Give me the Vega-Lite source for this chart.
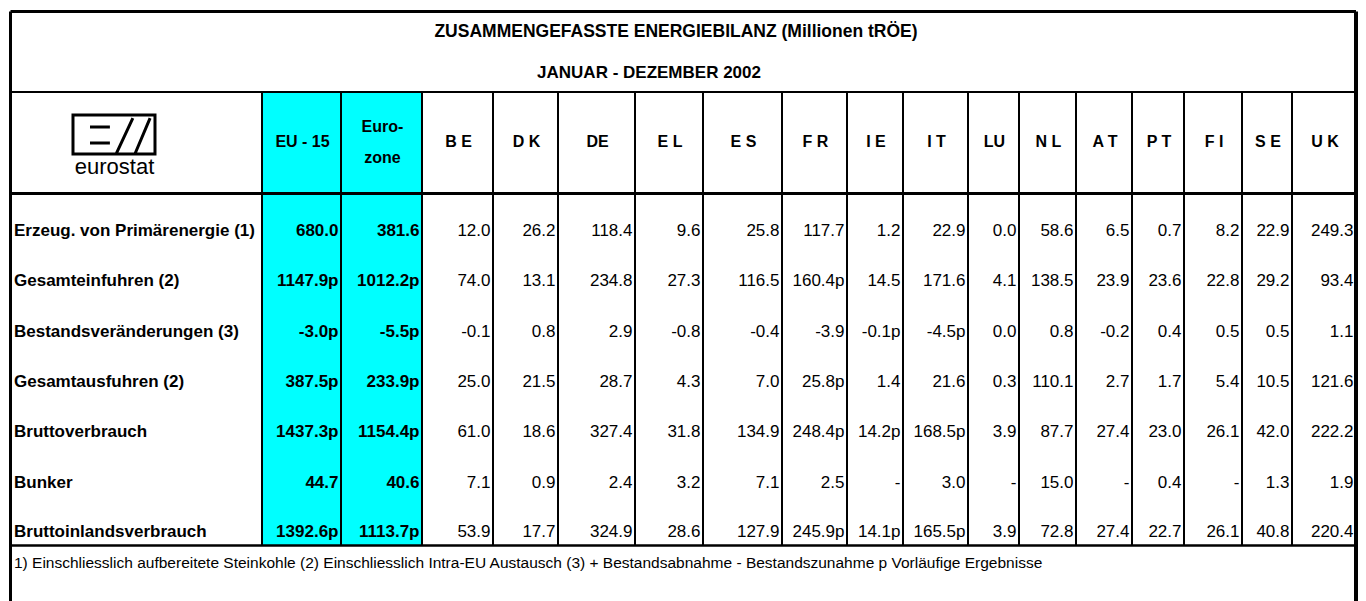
{
  "$schema": "https://vega.github.io/schema/vega-lite/v6.json",
  "width": 1366,
  "height": 601,
  "autosize": {"type": "none"},
  "padding": 0,
  "background": "white",
  "config": {"view": {"stroke": null}},
  "datasets": {
    "table": [
      {"row": 1, "item": "Erzeug. von Primärenergie (1)", "EU-15": "680.0", "Eurozone": "381.6", "BE": "12.0", "DK": "26.2", "DE": "118.4", "EL": "9.6", "ES": "25.8", "FR": "117.7", "IE": "1.2", "IT": "22.9", "LU": "0.0", "NL": "58.6", "AT": "6.5", "PT": "0.7", "FI": "8.2", "SE": "22.9", "UK": "249.3"},
      {"row": 2, "item": "Gesamteinfuhren (2)", "EU-15": "1147.9p", "Eurozone": "1012.2p", "BE": "74.0", "DK": "13.1", "DE": "234.8", "EL": "27.3", "ES": "116.5", "FR": "160.4p", "IE": "14.5", "IT": "171.6", "LU": "4.1", "NL": "138.5", "AT": "23.9", "PT": "23.6", "FI": "22.8", "SE": "29.2", "UK": "93.4"},
      {"row": 3, "item": "Bestandsveränderungen (3)", "EU-15": "-3.0p", "Eurozone": "-5.5p", "BE": "-0.1", "DK": "0.8", "DE": "2.9", "EL": "-0.8", "ES": "-0.4", "FR": "-3.9", "IE": "-0.1p", "IT": "-4.5p", "LU": "0.0", "NL": "0.8", "AT": "-0.2", "PT": "0.4", "FI": "0.5", "SE": "0.5", "UK": "1.1"},
      {"row": 4, "item": "Gesamtausfuhren (2)", "EU-15": "387.5p", "Eurozone": "233.9p", "BE": "25.0", "DK": "21.5", "DE": "28.7", "EL": "4.3", "ES": "7.0", "FR": "25.8p", "IE": "1.4", "IT": "21.6", "LU": "0.3", "NL": "110.1", "AT": "2.7", "PT": "1.7", "FI": "5.4", "SE": "10.5", "UK": "121.6"},
      {"row": 5, "item": "Bruttoverbrauch", "EU-15": "1437.3p", "Eurozone": "1154.4p", "BE": "61.0", "DK": "18.6", "DE": "327.4", "EL": "31.8", "ES": "134.9", "FR": "248.4p", "IE": "14.2p", "IT": "168.5p", "LU": "3.9", "NL": "87.7", "AT": "27.4", "PT": "23.0", "FI": "26.1", "SE": "42.0", "UK": "222.2"},
      {"row": 6, "item": "Bunker", "EU-15": "44.7", "Eurozone": "40.6", "BE": "7.1", "DK": "0.9", "DE": "2.4", "EL": "3.2", "ES": "7.1", "FR": "2.5", "IE": "-", "IT": "3.0", "LU": "-", "NL": "15.0", "AT": "-", "PT": "0.4", "FI": "-", "SE": "1.3", "UK": "1.9"},
      {"row": 7, "item": "Bruttoinlandsverbrauch", "EU-15": "1392.6p", "Eurozone": "1113.7p", "BE": "53.9", "DK": "17.7", "DE": "324.9", "EL": "28.6", "ES": "127.9", "FR": "245.9p", "IE": "14.1p", "IT": "165.5p", "LU": "3.9", "NL": "72.8", "AT": "27.4", "PT": "22.7", "FI": "26.1", "SE": "40.8", "UK": "220.4"}
    ],
    "columns": [
      {"col": "label", "k": 1, "head": ""},
      {"col": "EU-15", "k": 2, "head": "EU - 15"},
      {"col": "Eurozone", "k": 3, "head": "Euro-\nzone"},
      {"col": "BE", "k": 4, "head": "B E"},
      {"col": "DK", "k": 5, "head": "D K"},
      {"col": "DE", "k": 6, "head": "DE"},
      {"col": "EL", "k": 7, "head": "E L"},
      {"col": "ES", "k": 8, "head": "E S"},
      {"col": "FR", "k": 9, "head": "F R"},
      {"col": "IE", "k": 10, "head": "I E"},
      {"col": "IT", "k": 11, "head": "I T"},
      {"col": "LU", "k": 12, "head": "LU"},
      {"col": "NL", "k": 13, "head": "N L"},
      {"col": "AT", "k": 14, "head": "A T"},
      {"col": "PT", "k": 15, "head": "P T"},
      {"col": "FI", "k": 16, "head": "F I"},
      {"col": "SE", "k": 17, "head": "S E"},
      {"col": "UK", "k": 18, "head": "U K"}
    ]
  },
  "layer": [
    {
      "layer": [
        {
          "data": {"values": [{}]},
          "mark": {"type": "rect", "color": "#00FFFF"},
          "encoding": {
            "x": {"datum": 1, "type": "quantitative", "axis": null, "scale": {"type": "linear", "domain": [0,1,2,3,4,5,6,7,8,9,10,11,12,13,14,15,16,17,18], "range": [10.5,262,341,422,493,558,635,703,782,847,903,968,1019,1076,1132,1184,1242,1292,1356], "nice": false, "zero": false}},
            "x2": {"datum": 3},
            "y": {"datum": -2, "type": "quantitative", "axis": null, "scale": {"type": "linear", "domain": [-5,-4,-3,-2,-1,0,1,2,3,4,5,6,7,8,9,10], "range": [11.5,32,72.5,92,142,193.5,231,281,332,382,432,483,532,545.5,562.5,601], "nice": false, "zero": false}},
            "y2": {"datum": 8}
          }
        },
        {
          "data": {"name": "columns"},
          "transform": [{"filter": "datum.k < 18"}],
          "mark": {"type": "rule", "color": "black", "strokeWidth": 2},
          "encoding": {
            "x": {"field": "k", "type": "quantitative", "axis": null, "scale": {"type": "linear", "domain": [0,1,2,3,4,5,6,7,8,9,10,11,12,13,14,15,16,17,18], "range": [10.5,262,341,422,493,558,635,703,782,847,903,968,1019,1076,1132,1184,1242,1292,1356], "nice": false, "zero": false}},
            "y": {"datum": -2, "type": "quantitative", "axis": null, "scale": {"type": "linear", "domain": [-5,-4,-3,-2,-1,0,1,2,3,4,5,6,7,8,9,10], "range": [11.5,32,72.5,92,142,193.5,231,281,332,382,432,483,532,545.5,562.5,601], "nice": false, "zero": false}},
            "y2": {"datum": 8}
          }
        },
        {
          "data": {"values": [{}]},
          "mark": {"type": "rule", "color": "black", "strokeWidth": 3},
          "encoding": {
            "x": {"datum": 0, "type": "quantitative", "axis": null, "scale": {"type": "linear", "domain": [0,1,2,3,4,5,6,7,8,9,10,11,12,13,14,15,16,17,18], "range": [10.5,262,341,422,493,558,635,703,782,847,903,968,1019,1076,1132,1184,1242,1292,1356], "nice": false, "zero": false}},
            "x2": {"datum": 18},
            "y": {"datum": -5, "type": "quantitative", "axis": null, "scale": {"type": "linear", "domain": [-5,-4,-3,-2,-1,0,1,2,3,4,5,6,7,8,9,10], "range": [11.5,32,72.5,92,142,193.5,231,281,332,382,432,483,532,545.5,562.5,601], "nice": false, "zero": false}}
          }
        },
        {
          "data": {"values": [{}]},
          "mark": {"type": "rule", "color": "black", "strokeWidth": 2},
          "encoding": {
            "x": {"datum": 0, "type": "quantitative", "axis": null, "scale": {"type": "linear", "domain": [0,1,2,3,4,5,6,7,8,9,10,11,12,13,14,15,16,17,18], "range": [10.5,262,341,422,493,558,635,703,782,847,903,968,1019,1076,1132,1184,1242,1292,1356], "nice": false, "zero": false}},
            "x2": {"datum": 18},
            "y": {"datum": -2, "type": "quantitative", "axis": null, "scale": {"type": "linear", "domain": [-5,-4,-3,-2,-1,0,1,2,3,4,5,6,7,8,9,10], "range": [11.5,32,72.5,92,142,193.5,231,281,332,382,432,483,532,545.5,562.5,601], "nice": false, "zero": false}}
          }
        },
        {
          "data": {"values": [{}]},
          "mark": {"type": "rule", "color": "black", "strokeWidth": 3},
          "encoding": {
            "x": {"datum": 0, "type": "quantitative", "axis": null, "scale": {"type": "linear", "domain": [0,1,2,3,4,5,6,7,8,9,10,11,12,13,14,15,16,17,18], "range": [10.5,262,341,422,493,558,635,703,782,847,903,968,1019,1076,1132,1184,1242,1292,1356], "nice": false, "zero": false}},
            "x2": {"datum": 18},
            "y": {"datum": 0, "type": "quantitative", "axis": null, "scale": {"type": "linear", "domain": [-5,-4,-3,-2,-1,0,1,2,3,4,5,6,7,8,9,10], "range": [11.5,32,72.5,92,142,193.5,231,281,332,382,432,483,532,545.5,562.5,601], "nice": false, "zero": false}}
          }
        },
        {
          "data": {"values": [{}]},
          "mark": {"type": "rule", "color": "black", "strokeWidth": 2.5},
          "encoding": {
            "x": {"datum": 0, "type": "quantitative", "axis": null, "scale": {"type": "linear", "domain": [0,1,2,3,4,5,6,7,8,9,10,11,12,13,14,15,16,17,18], "range": [10.5,262,341,422,493,558,635,703,782,847,903,968,1019,1076,1132,1184,1242,1292,1356], "nice": false, "zero": false}},
            "x2": {"datum": 18},
            "y": {"datum": 8, "type": "quantitative", "axis": null, "scale": {"type": "linear", "domain": [-5,-4,-3,-2,-1,0,1,2,3,4,5,6,7,8,9,10], "range": [11.5,32,72.5,92,142,193.5,231,281,332,382,432,483,532,545.5,562.5,601], "nice": false, "zero": false}}
          }
        },
        {
          "data": {"values": [{}]},
          "mark": {"type": "rule", "color": "black", "strokeWidth": 3},
          "encoding": {
            "x": {"datum": 0, "type": "quantitative", "axis": null, "scale": {"type": "linear", "domain": [0,1,2,3,4,5,6,7,8,9,10,11,12,13,14,15,16,17,18], "range": [10.5,262,341,422,493,558,635,703,782,847,903,968,1019,1076,1132,1184,1242,1292,1356], "nice": false, "zero": false}},
            "y": {"datum": -5, "type": "quantitative", "axis": null, "scale": {"type": "linear", "domain": [-5,-4,-3,-2,-1,0,1,2,3,4,5,6,7,8,9,10], "range": [11.5,32,72.5,92,142,193.5,231,281,332,382,432,483,532,545.5,562.5,601], "nice": false, "zero": false}},
            "y2": {"datum": 10}
          }
        },
        {
          "data": {"values": [{}]},
          "mark": {"type": "rule", "color": "black", "strokeWidth": 4},
          "encoding": {
            "x": {"datum": 18, "type": "quantitative", "axis": null, "scale": {"type": "linear", "domain": [0,1,2,3,4,5,6,7,8,9,10,11,12,13,14,15,16,17,18], "range": [10.5,262,341,422,493,558,635,703,782,847,903,968,1019,1076,1132,1184,1242,1292,1356], "nice": false, "zero": false}},
            "y": {"datum": -5, "type": "quantitative", "axis": null, "scale": {"type": "linear", "domain": [-5,-4,-3,-2,-1,0,1,2,3,4,5,6,7,8,9,10], "range": [11.5,32,72.5,92,142,193.5,231,281,332,382,432,483,532,545.5,562.5,601], "nice": false, "zero": false}},
            "y2": {"datum": 10}
          }
        },
        {
          "data": {"name": "table"},
          "mark": {"type": "text", "align": "left", "baseline": "middle", "dx": 3.5, "font": "Liberation Sans", "fontSize": 17, "fontWeight": "bold", "color": "black"},
          "encoding": {
            "x": {"datum": 0, "type": "quantitative", "axis": null, "scale": {"type": "linear", "domain": [0,1,2,3,4,5,6,7,8,9,10,11,12,13,14,15,16,17,18], "range": [10.5,262,341,422,493,558,635,703,782,847,903,968,1019,1076,1132,1184,1242,1292,1356], "nice": false, "zero": false}},
            "y": {"field": "row", "type": "quantitative", "axis": null, "scale": {"type": "linear", "domain": [-5,-4,-3,-2,-1,0,1,2,3,4,5,6,7,8,9,10], "range": [11.5,32,72.5,92,142,193.5,231,281,332,382,432,483,532,545.5,562.5,601], "nice": false, "zero": false}},
            "text": {"field": "item", "type": "nominal"}
          }
        },
        {
          "data": {"name": "table"},
          "transform": [
            {"fold": ["EU-15","Eurozone","BE","DK","DE","EL","ES","FR","IE","IT","LU","NL","AT","PT","FI","SE","UK"], "as": ["col","value"]},
            {"lookup": "col", "from": {"data": {"name": "columns"}, "key": "col", "fields": ["k"]}},
            {"filter": "datum.k <= 3"}
          ],
          "mark": {"type": "text", "align": "right", "baseline": "middle", "dx": -2.5, "font": "Liberation Sans", "fontSize": 17, "fontWeight": "bold", "color": "black"},
          "encoding": {
            "x": {"field": "k", "type": "quantitative", "axis": null, "scale": {"type": "linear", "domain": [0,1,2,3,4,5,6,7,8,9,10,11,12,13,14,15,16,17,18], "range": [10.5,262,341,422,493,558,635,703,782,847,903,968,1019,1076,1132,1184,1242,1292,1356], "nice": false, "zero": false}},
            "y": {"field": "row", "type": "quantitative", "axis": null, "scale": {"type": "linear", "domain": [-5,-4,-3,-2,-1,0,1,2,3,4,5,6,7,8,9,10], "range": [11.5,32,72.5,92,142,193.5,231,281,332,382,432,483,532,545.5,562.5,601], "nice": false, "zero": false}},
            "text": {"field": "value", "type": "nominal"}
          }
        },
        {
          "data": {"name": "table"},
          "transform": [
            {"fold": ["EU-15","Eurozone","BE","DK","DE","EL","ES","FR","IE","IT","LU","NL","AT","PT","FI","SE","UK"], "as": ["col","value"]},
            {"lookup": "col", "from": {"data": {"name": "columns"}, "key": "col", "fields": ["k"]}},
            {"filter": "datum.k >= 4"}
          ],
          "mark": {"type": "text", "align": "right", "baseline": "middle", "dx": -2.5, "font": "Liberation Sans", "fontSize": 17, "color": "black"},
          "encoding": {
            "x": {"field": "k", "type": "quantitative", "axis": null, "scale": {"type": "linear", "domain": [0,1,2,3,4,5,6,7,8,9,10,11,12,13,14,15,16,17,18], "range": [10.5,262,341,422,493,558,635,703,782,847,903,968,1019,1076,1132,1184,1242,1292,1356], "nice": false, "zero": false}},
            "y": {"field": "row", "type": "quantitative", "axis": null, "scale": {"type": "linear", "domain": [-5,-4,-3,-2,-1,0,1,2,3,4,5,6,7,8,9,10], "range": [11.5,32,72.5,92,142,193.5,231,281,332,382,432,483,532,545.5,562.5,601], "nice": false, "zero": false}},
            "text": {"field": "value", "type": "nominal"}
          }
        },
        {
          "data": {"values": [{}]},
          "mark": {"type": "text", "align": "center", "baseline": "middle", "font": "Liberation Sans", "fontSize": 17.5, "fontWeight": "bold", "color": "black"},
          "encoding": {
            "x": {"datum": 6.603, "type": "quantitative", "axis": null, "scale": {"type": "linear", "domain": [0,1,2,3,4,5,6,7,8,9,10,11,12,13,14,15,16,17,18], "range": [10.5,262,341,422,493,558,635,703,782,847,903,968,1019,1076,1132,1184,1242,1292,1356], "nice": false, "zero": false}},
            "y": {"datum": -4, "type": "quantitative", "axis": null, "scale": {"type": "linear", "domain": [-5,-4,-3,-2,-1,0,1,2,3,4,5,6,7,8,9,10], "range": [11.5,32,72.5,92,142,193.5,231,281,332,382,432,483,532,545.5,562.5,601], "nice": false, "zero": false}},
            "text": {"value": "ZUSAMMENGEFASSTE ENERGIEBILANZ (Millionen tRÖE)"}
          }
        },
        {
          "data": {"values": [{}]},
          "mark": {"type": "text", "align": "center", "baseline": "middle", "font": "Liberation Sans", "fontSize": 17, "fontWeight": "bold", "color": "black"},
          "encoding": {
            "x": {"datum": 6.206, "type": "quantitative", "axis": null, "scale": {"type": "linear", "domain": [0,1,2,3,4,5,6,7,8,9,10,11,12,13,14,15,16,17,18], "range": [10.5,262,341,422,493,558,635,703,782,847,903,968,1019,1076,1132,1184,1242,1292,1356], "nice": false, "zero": false}},
            "y": {"datum": -3, "type": "quantitative", "axis": null, "scale": {"type": "linear", "domain": [-5,-4,-3,-2,-1,0,1,2,3,4,5,6,7,8,9,10], "range": [11.5,32,72.5,92,142,193.5,231,281,332,382,432,483,532,545.5,562.5,601], "nice": false, "zero": false}},
            "text": {"value": "JANUAR - DEZEMBER  2002"}
          }
        },
        {
          "data": {"values": [{}]},
          "mark": {"type": "text", "align": "left", "baseline": "middle", "dx": 3.5, "font": "Liberation Sans", "fontSize": 15.5, "color": "black"},
          "encoding": {
            "x": {"datum": 0, "type": "quantitative", "axis": null, "scale": {"type": "linear", "domain": [0,1,2,3,4,5,6,7,8,9,10,11,12,13,14,15,16,17,18], "range": [10.5,262,341,422,493,558,635,703,782,847,903,968,1019,1076,1132,1184,1242,1292,1356], "nice": false, "zero": false}},
            "y": {"datum": 9, "type": "quantitative", "axis": null, "scale": {"type": "linear", "domain": [-5,-4,-3,-2,-1,0,1,2,3,4,5,6,7,8,9,10], "range": [11.5,32,72.5,92,142,193.5,231,281,332,382,432,483,532,545.5,562.5,601], "nice": false, "zero": false}},
            "text": {"value": "1) Einschliesslich aufbereitete Steinkohle (2) Einschliesslich Intra-EU Austausch (3) + Bestandsabnahme  - Bestandszunahme p Vorläufige Ergebnisse"}
          }
        },
        {
          "data": {"values": [{}]},
          "mark": {"type": "point", "shape": "M-1,-0.476H1V0.476H-1Z M-0.585,-0.18H-0.1 M-0.585,0.207H-0.1 M0.05,0.476L0.46,-0.4 M0.51,0.476L0.88,-0.4", "size": 6724, "filled": false, "stroke": "black", "strokeWidth": 3, "opacity": 1},
          "encoding": {
            "x": {"datum": 0.4115, "type": "quantitative", "axis": null, "scale": {"type": "linear", "domain": [0,1,2,3,4,5,6,7,8,9,10,11,12,13,14,15,16,17,18], "range": [10.5,262,341,422,493,558,635,703,782,847,903,968,1019,1076,1132,1184,1242,1292,1356], "nice": false, "zero": false}},
            "y": {"datum": -1.15, "type": "quantitative", "axis": null, "scale": {"type": "linear", "domain": [-5,-4,-3,-2,-1,0,1,2,3,4,5,6,7,8,9,10], "range": [11.5,32,72.5,92,142,193.5,231,281,332,382,432,483,532,545.5,562.5,601], "nice": false, "zero": false}}
          }
        },
        {
          "data": {"values": [{}]},
          "mark": {"type": "text", "align": "center", "baseline": "middle", "font": "Liberation Sans", "fontSize": 22, "color": "black"},
          "encoding": {
            "x": {"datum": 0.4135, "type": "quantitative", "axis": null, "scale": {"type": "linear", "domain": [0,1,2,3,4,5,6,7,8,9,10,11,12,13,14,15,16,17,18], "range": [10.5,262,341,422,493,558,635,703,782,847,903,968,1019,1076,1132,1184,1242,1292,1356], "nice": false, "zero": false}},
            "y": {"datum": -0.52, "type": "quantitative", "axis": null, "scale": {"type": "linear", "domain": [-5,-4,-3,-2,-1,0,1,2,3,4,5,6,7,8,9,10], "range": [11.5,32,72.5,92,142,193.5,231,281,332,382,432,483,532,545.5,562.5,601], "nice": false, "zero": false}},
            "text": {"value": "eurostat"}
          }
        }
      ]
    },
    {
      "layer": [
        {
          "data": {"name": "columns"},
          "transform": [{"filter": "datum.k >= 2 && datum.k != 3"}],
          "mark": {"type": "text", "align": "center", "baseline": "middle", "dx": 1, "font": "Liberation Sans", "fontSize": 16, "fontWeight": "bold", "color": "black"},
          "encoding": {
            "x": {"field": "k", "type": "quantitative", "axis": null, "scale": {"type": "linear", "domain": [2,3,4,5,6,7,8,9,10,11,12,13,14,15,16,17,18], "range": [301.5,381.5,457.5,525.5,596.5,669,742.5,814.5,875,935.5,993.5,1047.5,1104,1158,1213,1267,1324], "nice": false, "zero": false}},
            "y": {"datum": -1, "type": "quantitative", "axis": null, "scale": {"type": "linear", "domain": [-5,-4,-3,-2,-1,0,1,2,3,4,5,6,7,8,9,10], "range": [11.5,32,72.5,92,142,193.5,231,281,332,382,432,483,532,545.5,562.5,601], "nice": false, "zero": false}},
            "text": {"field": "head", "type": "nominal"}
          }
        },
        {
          "data": {"name": "columns"},
          "transform": [{"filter": "datum.k == 3"}],
          "mark": {"type": "text", "align": "center", "baseline": "middle", "dx": 1, "dy": -15.5, "font": "Liberation Sans", "fontSize": 16, "fontWeight": "bold", "color": "black", "lineBreak": "\n", "lineHeight": 31},
          "encoding": {
            "x": {"field": "k", "type": "quantitative", "axis": null, "scale": {"type": "linear", "domain": [2,3,4,5,6,7,8,9,10,11,12,13,14,15,16,17,18], "range": [301.5,381.5,457.5,525.5,596.5,669,742.5,814.5,875,935.5,993.5,1047.5,1104,1158,1213,1267,1324], "nice": false, "zero": false}},
            "y": {"datum": -1, "type": "quantitative", "axis": null, "scale": {"type": "linear", "domain": [-5,-4,-3,-2,-1,0,1,2,3,4,5,6,7,8,9,10], "range": [11.5,32,72.5,92,142,193.5,231,281,332,382,432,483,532,545.5,562.5,601], "nice": false, "zero": false}},
            "text": {"field": "head", "type": "nominal"}
          }
        }
      ]
    }
  ],
  "resolve": {"scale": {"x": "independent"}}
}
